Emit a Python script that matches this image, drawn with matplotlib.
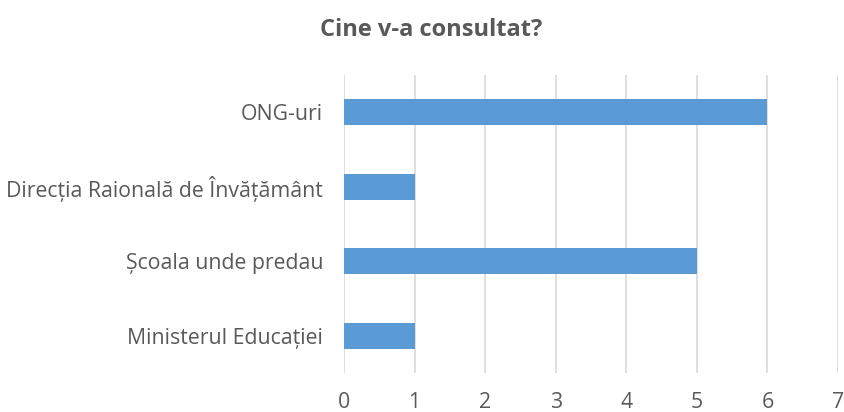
import matplotlib
matplotlib.use("Agg")
import matplotlib.pyplot as plt

plt.rcParams['font.family'] = ['Open Sans', 'DejaVu Sans']

categories = ["Ministerul Educației", "Școala unde predau",
              "Direcția Raională de Învățământ", "ONG-uri"]
values = [1, 5, 1, 6]
xticks = [0, 1, 2, 3, 4, 5, 6, 7]

text_col = "#595959"

fig = plt.figure(figsize=(8.45, 4.12), dpi=100)
ax = fig.add_axes([344 / 845, 1 - 373 / 412, 494 / 845, 298 / 412])

ax.barh(range(len(categories)), values, height=0.35, color="#5B9BD5", zorder=3)
ax.set_yticks(range(len(categories)))
ax.set_yticklabels(categories, fontsize=15.3, color=text_col)
ax.set_xticks(xticks)
ax.set_xticklabels([str(t) for t in xticks], fontsize=15.3, color=text_col)
ax.set_xlim(0, 7)
ax.set_ylim(-0.5, 3.5)
ax.grid(True, axis="x", color="#D9D9D9", linewidth=1.2, zorder=0)
for s in ax.spines.values():
    s.set_visible(False)
ax.tick_params(axis="both", length=0)
ax.tick_params(axis="x", pad=14)
ax.tick_params(axis="y", pad=15)

fig.text(0.51, 1 - 30 / 412, "Cine v-a consultat?", ha="center", va="center",
         fontsize=17, fontweight="bold", color=text_col)

fig.savefig("out.png", dpi=100)
